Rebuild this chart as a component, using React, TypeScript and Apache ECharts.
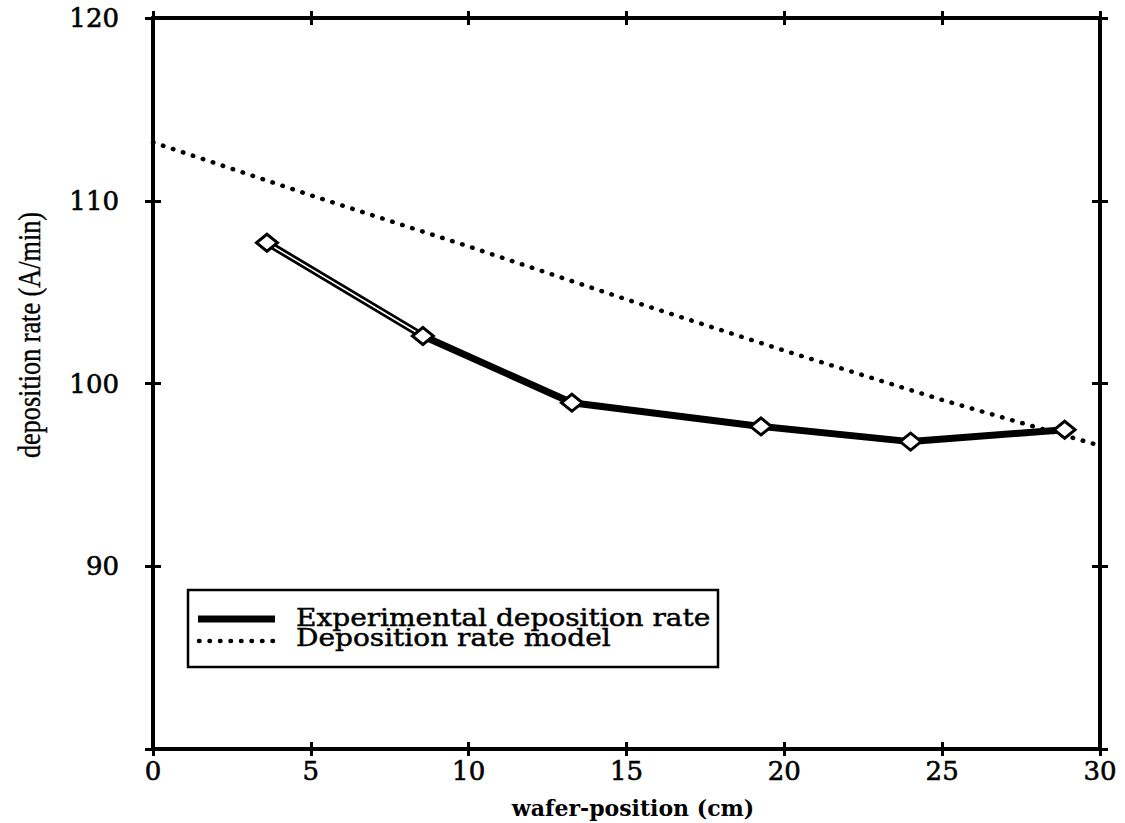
import React, { useEffect, useRef } from "react";
import * as echarts from "echarts";

// wafer position (cm) and measured deposition rate (A/min)
const expPositions = [3.61, 8.55, 13.27, 19.26, 24.0, 28.88];
const expRates = [107.7, 102.6, 98.95, 97.65, 96.82, 97.47];

// model prediction along the wafer
const modelPositions = [0, 5, 10, 15, 20, 25, 30];
const modelRates = [113.2, 110.3, 107.5, 104.6, 101.8, 99.1, 96.6];

const xTicks = [0, 5, 10, 15, 20, 25, 30];
const yTicks = [80, 90, 100, 110, 120];

const legendNames = ["Experimental deposition rate", "Deposition rate model"];

const X_MIN = xTicks[0];
const X_MAX = xTicks[xTicks.length - 1];
const Y_MIN = yTicks[0];
const Y_MAX = yTicks[yTicks.length - 1];

const FONT = "'DejaVu Serif', serif";
const DOT = [0.5, 10];

export default function App() {
  const ref = useRef<HTMLDivElement>(null);

  useEffect(() => {
    if (!ref.current) return;
    const chart = echarts.init(ref.current, undefined, { renderer: "svg" });

    const expData = expPositions.map((x, i) => [x, expRates[i]]);
    const modelData = modelPositions.map((x, i) => [x, modelRates[i]]);

    const tick = (inside: boolean, length: number) => ({
      show: true,
      inside,
      length,
      lineStyle: { color: "#000", width: 3 },
    });

    const baseX = (extra: any) => ({
      type: "value",
      min: X_MIN,
      max: X_MAX,
      interval: 5,
      splitLine: { show: false },
      axisLine: { show: true, onZero: false, lineStyle: { color: "#000", width: 4 } },
      axisTick: tick(false, 7),
      axisLabel: { show: false },
      ...extra,
    });
    const baseY = (extra: any) => ({
      type: "value",
      min: Y_MIN,
      max: Y_MAX,
      interval: 10,
      splitLine: { show: false },
      axisLine: { show: true, onZero: false, lineStyle: { color: "#000", width: 4 } },
      axisTick: tick(false, 8),
      axisLabel: { show: false },
      ...extra,
    });

    const labelStyle = {
      show: true,
      color: "#000",
      fontFamily: FONT,
      fontSize: 26,
      textBorderColor: "#000",
      textBorderWidth: 0.6,
    };

    chart.setOption({
      animation: false,
      backgroundColor: "#fff",
      grid: { left: 153, right: 25, top: 18, bottom: 74, containLabel: false },
      xAxis: [
        baseX({ position: "bottom", axisLabel: { ...labelStyle, margin: 9 } }),
        baseX({ position: "bottom", axisTick: tick(true, 7) }),
        baseX({ position: "top" }),
        baseX({ position: "top", axisTick: tick(true, 7) }),
      ],
      yAxis: [
        baseY({
          position: "left",
          axisLabel: {
            ...labelStyle,
            margin: 34,
            formatter: (v: number) => (v === Y_MIN ? "" : String(v)),
          },
        }),
        baseY({ position: "left", axisTick: tick(true, 8) }),
        baseY({ position: "right" }),
        baseY({ position: "right", axisTick: tick(true, 8) }),
      ],
      series: [
        {
          name: legendNames[1],
          type: "line",
          data: modelData,
          symbol: "none",
          z: 2,
          lineStyle: { color: "#000", width: 4.5, type: DOT, cap: "round" },
        },
        {
          name: legendNames[0],
          type: "line",
          data: expData,
          symbol: "none",
          z: 3,
          lineStyle: { color: "#000", width: 7, join: "round" },
        },
        {
          // thin light core along the first segment of the measured curve
          type: "line",
          data: expData.slice(0, 2),
          symbol: "none",
          z: 4,
          silent: true,
          lineStyle: { color: "#fff", width: 1.5 },
        },
        {
          type: "scatter",
          data: expData,
          symbol: "diamond",
          symbolSize: [21, 17],
          z: 5,
          itemStyle: { color: "#fff", opacity: 1, borderColor: "#000", borderWidth: 3 },
        },
      ],
      graphic: [
        // legend box
        {
          type: "rect",
          shape: { x: 188, y: 590, width: 530, height: 77 },
          style: { fill: "#fff", stroke: "#000", lineWidth: 2.5 },
          z: 10,
        },
        {
          type: "line",
          shape: { x1: 198, y1: 619, x2: 275, y2: 619 },
          style: { stroke: "#000", lineWidth: 7 },
          z: 11,
        },
        {
          type: "line",
          shape: { x1: 199, y1: 641, x2: 275, y2: 641 },
          style: { stroke: "#000", lineWidth: 4.5, lineDash: DOT, lineCap: "round" },
          z: 11,
        },
        {
          type: "text",
          x: 296,
          y: 627,
          scaleX: 1.12,
          style: {
            text: legendNames.join("\n"),
            fontFamily: FONT,
            fontSize: 25,
            lineHeight: 20,
            fill: "#000",
            stroke: "#000",
            lineWidth: 0.5,
            verticalAlign: "middle",
          },
          z: 11,
        },
        // axis titles
        {
          type: "text",
          x: 633,
          y: 808,
          style: {
            text: "wafer-position (cm)",
            fontFamily: FONT,
            fontWeight: "bold",
            fontSize: 22,
            fill: "#000",
            align: "center",
            verticalAlign: "middle",
          },
        },
        {
          type: "text",
          x: 29,
          y: 335,
          rotation: Math.PI / 2,
          scaleX: 0.82,
          style: {
            text: "deposition rate (A/min)",
            fontFamily: "'Liberation Serif', serif",
            fontSize: 32,
            fill: "#000",
            stroke: "#000",
            lineWidth: 0.4,
            align: "center",
            verticalAlign: "middle",
          },
        },
      ],
    });

    return () => chart.dispose();
  }, []);

  return (
    <div
      ref={ref}
      style={{ position: "absolute", left: 0, top: 0, width: 1125, height: 823 }}
    />
  );
}
